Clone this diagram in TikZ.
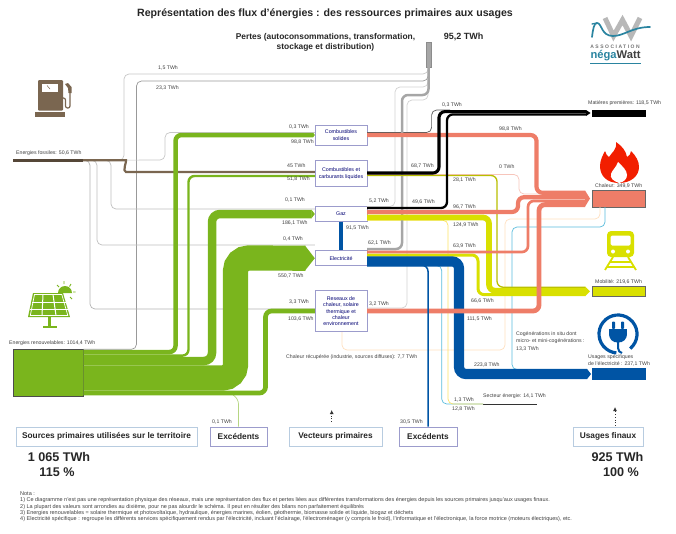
\documentclass[tikz,border=0pt]{standalone}
\usepackage{fontspec}
\setmainfont{Liberation Sans}
\usetikzlibrary{arrows.meta}
\definecolor{vert}{HTML}{7AB51D}
\definecolor{brun}{HTML}{7A6650}
\definecolor{saumon}{HTML}{EE7D68}
\definecolor{jaune}{HTML}{D9E000}
\definecolor{bleu}{HTML}{0054A4}
\definecolor{gris}{HTML}{A6A6A6}
\definecolor{teal}{HTML}{2A84A0}
\definecolor{cadre}{HTML}{9C9CCC}
\definecolor{cadreb}{HTML}{B8CCE0}
\tikzset{
	flux/.style={line width=#1pt,rounded corners=6pt},
	fin/.style={draw=#1,line width=.7pt,rounded corners=5pt},
	pointe/.style={-{Triangle[length=0pt 0.4,width=0pt 1]}},
	lab/.style={font=\fontsize{5.2}{6}\selectfont,text=black!75,inner sep=0pt,anchor=west},
	vecteur/.style={draw=cadre,fill=white,line width=.7pt,text=blue!45!black,align=center,inner sep=0pt,minimum width=51.7pt,font=\fontsize{5.3}{7}\selectfont},
	barre/.style={draw=black!60,line width=.5pt,inner sep=0pt,minimum width=53.7pt},
	titre/.style={font=\fontsize{#1}{#1}\selectfont\bfseries,text=black!85,inner sep=0pt},
	bas/.style={draw=cadreb,line width=.8pt,fill=white,minimum height=19pt,inner sep=0pt,font=\fontsize{8.3}{9}\selectfont\bfseries,text=black!85},
}
\begin{document}
\begin{tikzpicture}[x=1pt,y=-1pt]
	\useasboundingbox (0,0) rectangle (676,533);
	%TITRES
	\node[titre=10.6] (titre) at (325,14) {Représentation des flux d'énergies : des ressources primaires aux usages};
	\node[titre=8.4,align=center] (pertestxt) at (325.5,42) {Pertes (autoconsommations, transformation,\\[1.6pt]stockage et distribution)};
	\node[titre=9] (pertesval) at (463.5,37) {95,2 TWh};
	%NOEUDS
	\node[vecteur,minimum height=20pt] (solides) at (341,135) {Combustibles\\solides};
	\node[vecteur,minimum height=26pt] (liquides) at (341,173.7) {Combustibles et\\carburants liquides};
	\node[vecteur,minimum height=14.5pt] (gaz) at (341,214) {Gaz};
	\node[vecteur,minimum height=15pt] (elec) at (341,258.2) {Electricité};
	\node[vecteur,minimum height=41pt,font=\fontsize{5.3}{6.4}\selectfont] (reseaux) at (341,311.2) {Reseaux de\\chaleur, solaire\\thermique et\\chaleur\\environnement};
	\node[draw=black!45,fill=gris,inner sep=0pt,minimum width=5pt,minimum height=25pt] (pertes) at (428.5,54.5) {};
	\node[draw=black!70,fill=vert,line width=.6pt,inner sep=0pt,minimum width=70pt,minimum height=47pt] (renouv) at (48,372.3) {};
	\node[fill=brun!70!black,inner sep=0pt,minimum width=70pt,minimum height=3pt] (fossiles) at (48,160.3) {};
	\node[barre,fill=black,draw=black,minimum height=5.5pt] (matieres) at (618.8,113) {};
	\node[barre,fill=saumon,minimum height=16.5pt] (chaleur) at (618.8,198.5) {};
	\node[barre,fill=jaune,minimum height=10pt] (mobilite) at (618.8,291.3) {};
	\node[barre,fill=bleu,draw=bleu,minimum height=11pt] (usages) at (618.8,373.8) {};
	\node[fill=black!80,inner sep=0pt,minimum width=53.5pt,minimum height=1pt] (secteur) at (510,404) {};
	\node[bas,minimum width=181pt] (sources) at (106.5,436.5) {Sources primaires utilisées sur le territoire};
	\node[bas,draw=cadre,minimum width=57pt] (excedg) at (238.5,436.5) {Excédents};
	\node[bas,minimum width=93pt] (vecteurs) at (335.5,436.5) {Vecteurs primaires};
	\node[bas,draw=cadre,minimum width=58pt] (excedd) at (428,436.5) {Excédents};
	\node[bas,minimum width=70pt] (finaux) at (608,436.5) {Usages finaux};
	\coordinate (tipmat) at (586,113);
	\coordinate (tipcha) at (585,198.5);
	\coordinate (tipmob) at (585,291.3);
	\coordinate (tipusa) at (591,374);
	%PERTES ET FINES
	\draw[fin=black!22] (fossiles.east) -- (124,160.3) -- (124,74) -- (428,74) -- (pertes.south);
	\draw[fin=black!40] (renouv.east |- 0,349.3) -- (136.5,349.3) -- (136.5,81) -- (428,81) -- (pertes.south);
	\draw[fin=black!22] (fossiles.east) -- (165,160) -- (165,132.5) -- (solides.west |- 0,132.5);
	\draw[fin=black!25] (fossiles.east) -- (111,160.3) -- (111,209) -- (gaz.west |- 0,209);
	\draw[fin=black!25] (fossiles.east) -- (97,160.3) -- (97,245) -- (elec.west |- 0,245);
	\draw[fin=black!30] (fossiles.east) -- (90,160.3) -- (90,309) -- (reseaux.west |- 0,309);
	\draw[fin=black!18] (gaz.east |- 0,206.5) -- (395,206.5) -- (395,87) -- (428,87) -- (pertes.south);
	\draw[fin=black!18] (reseaux.east |- 0,308) -- (407,308) -- (407,100) -- (428,100) -- (pertes.south);
	\draw[fin=black!65] (solides.east |- 0,132.5) -- (431.6,132.5) -- (431.6,110) -- (450,110);
	\draw[fin=saumon!45] (liquides.east |- 0,174.5) -- (519,174.5) -- (519,194) -- (tipcha |- 0,194);
	\draw[fin=orange!25] (342,0 |- reseaux.south) -- (342,350) -- (505,350) -- (505,219) -- (600,219) -- (600,0 |- chaleur.south);
	\draw[fin=bleu!60!cyan!65] (548,369.5) -- (512,369.5) -- (512,227) -- (605,227) -- (605,0 |- chaleur.south);
	\draw[fin=bleu!60!cyan!65] (elec.east |- 0,265.5) -- (441.7,265.5) -- (441.7,404) -- (secteur.west);
	\draw[fin=yellow!70!orange!60] (gaz.east |- 0,220.3) -- (448,220.3) -- (448,404) -- (secteur.west);
	\draw[fin=vert!55] (233,395) -- (238.5,399) -- (excedg.north);
	%VERT
	\draw[flux=2.2,draw=brun] (fossiles.east) -- (120,160.3) .. controls (127,160.3) and (122,172) .. (132,172) -- (solides.west |- 0,172);
	\draw[flux=4.5,draw=vert,pointe] (renouv.east |- 0,352) -- (175.5,352) -- (175.5,135) -- (solides.west |- 0,135);
	\draw[flux=2.4,draw=vert] (renouv.east |- 0,355.6) -- (188.5,355.6) -- (188.5,176) -- (liquides.west |- 0,176);
	\draw[flux=8.5,draw=vert,pointe,rounded corners=8pt] (renouv.east |- 0,361) -- (212,361) -- (212,214) -- (gaz.west);
	\draw[flux=25.2,draw=vert,pointe,rounded corners=13pt] (renouv.east |- 0,378) -- (235.5,378) -- (235.5,258) -- (elec.west);
	\draw[flux=4.7,draw=vert] (renouv.east |- 0,393) -- (265.5,393) -- (265.5,311) -- (reseaux.west |- 0,311);
	%GRIS
	\draw[flux=2.5,draw=gris] (elec.east |- 0,249) -- (402,249) -- (402,95) -- (428.5,95) -- (pertes.south);
	%JAUNE
	\draw[flux=1.3,draw=jaune!85!black] (liquides.east |- 0,175.5) -- (497,175.5) -- (497,287.2) -- (tipmob |- 0,287.2);
	\draw[flux=5.7,draw=jaune] (gaz.east |- 0,217.5) -- (489,217.5) -- (489,290.7) -- (tipmob |- 0,290.7);
	\draw[flux=3,draw=jaune] (elec.east |- 0,255) -- (478,255) -- (478,294.6) -- (tipmob |- 0,294.6);
	\fill[jaune] (tipmob |- 0,286.3) -- ([xshift=5pt]tipmob) -- (tipmob |- 0,296.3) -- cycle;
	%BLEU
	\draw[flux=3.5,draw=bleu] (341,0 |- gaz.south) -- (341,0 |- elec.north);
	\draw[flux=10.2,draw=bleu,pointe,rounded corners=7pt] (elec.east |- 0,261.4) -- (459,261.4) -- (459,374) -- (tipusa);
	%SAUMON
	\draw[flux=4.2,draw=saumon] (solides.east |- 0,135) -- (536.5,135) -- (536.5,192.8) -- (tipcha |- 0,192.8);
	\draw[flux=4.2,draw=saumon] (gaz.east |- 0,212) -- (518,212) -- (518,197.2) -- (tipcha |- 0,197.2);
	\draw[flux=2.7,draw=saumon] (elec.east |- 0,252) -- (528,252) -- (528,200.9) -- (tipcha |- 0,200.9);
	\draw[flux=4.8,draw=saumon] (reseaux.east |- 0,311) -- (539,311) -- (539,204.6) -- (tipcha |- 0,204.6);
	\fill[saumon] (tipcha |- 0,190.5) -- ([xshift=5pt]tipcha) -- (tipcha |- 0,206.7) -- cycle;
	%NOIR
	\draw[flux=3.1,draw=black] (liquides.east |- 0,173) -- (439,173) -- (439,111.6) -- (tipmat |- 0,111.6);
	\draw[flux=2.3,draw=black] (gaz.east |- 0,208) -- (447,208) -- (447,114.4) -- (tipmat |- 0,114.4);
	\fill (tipmat |- 0,110) -- ([xshift=4.5pt]tipmat) -- (tipmat |- 0,116) -- cycle;
	\draw[flux=1.5,draw=bleu] (elec.east |- 0,265.3) -| (excedd.north);
	%ETIQUETTES
	\foreach \px/\py/\txt [count=\n] in {158/68/{1,5 TWh},156/88/{23,3 TWh},16/153/{Energies fossiles: 50,6 TWh},9/343/{Energies renouvelables: 1014,4 TWh},
		289/127/{0,3 TWh},291/142/{98,8 TWh},287/166/{45 TWh},287/178.5/{51,8 TWh},285/200/{0,1 TWh},282/223/{186,1 TWh},283/239/{0,4 TWh},278/276/{550,7 TWh},289/302/{3,3 TWh},288/319/{103,6 TWh},
		369/201/{5,2 TWh},412/202/{49,6 TWh},411/166/{68,7 TWh},346/228/{91,5 TWh},368/243/{62,1 TWh},369/304/{3,2 TWh},442/105/{0,3 TWh},
		453/179.5/{28,1 TWh},499/167/{0 TWh},499/129/{98,8 TWh},453/206.5/{96,7 TWh},453/225/{124,9 TWh},453/246/{63,9 TWh},471/301/{66,6 TWh},467/318.7/{111,5 TWh},474/365/{223,8 TWh},
		454/400/{1,3 TWh},452/409/{12,8 TWh},400/422/{30,5 TWh},212/422/{0,1 TWh},483/396/{Secteur énergie: 14,1 TWh},286/357/{Chaleur récupérée (industrie, sources diffuses): 7,7 TWh},
		588/103/{Matières premières: 118,5 TWh},595/186/{Chaleur: 349,9 TWh},595/282/{Mobilité: 219,6 TWh},588/357/{Usages spécifiques},588/364/{de l'électricité : 237,1 TWh},
		516/334.5/{Cogénérations in situ dont},516/341/{micro- et mini-cogénérations :},516/349/{13,3 TWh}}
		\node[lab] (lab\n) at (\px,\py) {\txt};
	%TOTAUX
	\node[titre=12.6] (totalg) at (59,457) {1 065 TWh};
	\node[titre=12.6] (pctg) at (57,472) {115 \%};
	\node[titre=12.6] (totald) at (617.5,457) {925 TWh};
	\node[titre=12.6] (pctd) at (621,472) {100 \%};
	\coordinate (fa) at (331.7,422);
	\coordinate (fb) at (331.7,410);
	\coordinate (fc) at (615,426);
	\coordinate (fd) at (615,407);
	\draw[dotted,line width=.8pt,black!80,-{Latex[length=4pt,width=4pt]}] (fa) -- (fb);
	\draw[dotted,line width=.8pt,black!80,-{Latex[length=4pt,width=4pt]}] (fc) -- (fd);
	%NOTES
	\node[inner sep=0pt,anchor=north west,align=left,text=black!75,font=\fontsize{5.5}{6.3}\selectfont] (nota) at (20,491.5) {Nota :\\
		1) Ce diagramme n'est pas une représentation physique des réseaux, mais une représentation des flux et pertes liées aux différentes transformations des énergies depuis les sources primaires jusqu'aux usages finaux.\\
		2) La plupart des valeurs sont arrondies au dixième, pour ne pas alourdir le schéma. Il peut en résulter des bilans non parfaitement équilibrés\\
		3) Energies renouvelables = solaire thermique et photovoltaïque, hydraulique, énergies marines, éolien, géothermie, biomasse solide et liquide, biogaz et déchets\\
		4) Electricité spécifique : regroupe les différents services spécifiquement rendus par l'électricité, incluant l'éclairage, l'électroménager (y compris le froid), l'informatique et l'électronique, la force motrice (moteurs électriques), etc.};
	%POMPE
	\fill[brun,rounded corners=1pt] (38,80) rectangle (63,110.5);
	\fill[white] (42,84) rectangle (58,92);
	\draw[brun,line width=.5pt] (47,85.5) -- (50,89);
	\fill[brun] (35,111.7) rectangle (64.5,116.5);
	\draw[brun,line width=1.2pt,rounded corners=2pt] (63,98) -- (65.5,98) -- (65.5,108) -- (70,108) -- (70,90);
	\fill[brun] (65,84) -- (68,83) -- (71.5,87) -- (71.5,93) -- (68.5,93) -- (68,88) -- cycle;
	%PANNEAU
	\fill[vert] (58,293) arc (180:360:7);
	\fill[vert] (33,293) -- (63,293) -- (70,317) -- (28,317) -- cycle;
	\draw[white,line width=.7pt] (34.5,294.5) -- (61.8,294.5) -- (67.8,315.5) -- (30.3,315.5) -- cycle;
	\foreach \dx in {-1,1} \draw[white,line width=1pt] (48+\dx*5,294.5) -- (49+\dx*7,315.5);
	\foreach \hy/\hl/\hr in {302/32/66,309/30/68} \draw[white,line width=1pt] (\hl,\hy) -- (\hr,\hy);
	\fill[vert] (47.5,317) rectangle (50.5,326);
	\fill[vert] (43,326) rectangle (57,328);
	\draw[vert,line width=.9pt] (57,285) -- (59,287) (64,281) -- (64,284) (71,284) -- (69.5,286.5) (73,292) -- (75.5,292) (70,297) -- (72,299);
	%FLAMME
	\fill[red!75!orange!95!black] (619,183) .. controls (607,183) and (600,176) .. (600,166) .. controls (600,160) and (603,155) .. (605,151) .. controls (606,154) and (607,156) .. (609,157) .. controls (612,152) and (617,150) .. (616,142) .. controls (622,146) and (626,151) .. (627,157) .. controls (629,156) and (631,154) .. (631,151) .. controls (636,156) and (639,161) .. (639,167) .. controls (639,176) and (631,183) .. (619,183) -- cycle;
	\fill[white] (619,183) .. controls (613,181) and (610,178) .. (611,174) .. controls (612,170) and (616,168) .. (618,162) .. controls (622,166) and (627,170) .. (627,175) .. controls (627,179) and (624,182) .. (619,183) -- cycle;
	%TRAIN
	\fill[jaune,rounded corners=4pt] (607,231) rectangle (634,257);
	\fill[white,rounded corners=1.5pt] (610.5,235.5) rectangle (630.5,245.5);
	\fill[white] (613,251.5) circle (2);
	\fill[white] (628,251.5) circle (2);
	\draw[jaune,line width=1.8pt] (613,257) -- (605,270) (628,257) -- (636,270) (610,262) -- (631,262) (607.5,267) -- (633.5,267);
	%PRISE
	\draw[bleu,line width=3.2pt] (618,334)++(50:19) arc (50:-265:19);
	\fill[bleu] (609,328.5) rectangle (627,333);
	\fill[bleu] (609,333) -- (627,333) .. controls (627,340) and (623,342.5) .. (618,342.5) .. controls (613,342.5) and (609,340) .. (609,333) -- cycle;
	\fill[bleu,rounded corners=.8pt] (612,321.5) rectangle (615,329);
	\fill[bleu,rounded corners=.8pt] (621,321.5) rectangle (624,329);
	\draw[bleu,line width=2pt] (618,342) -- (618,348) .. controls (618,351) and (620,352.5) .. (622,353);
	%LOGO
	\draw[black!28,line width=5pt,line join=miter] (605,18) -- (613.5,36) -- (622.5,20) -- (631,36) -- (640,18);
	\draw[teal,line width=1.7pt,line cap=round] (592,37) .. controls (593,29) and (594,23) .. (597,23) .. controls (602,23) and (601,36) .. (613,36) .. controls (624,36) and (632,27) .. (650,27);
	\draw[teal,line width=1.3pt,line cap=round] (592,24) -- (597,23);
	\node[inner sep=0pt,text=black!55,font=\fontsize{5}{5}\selectfont\bfseries\addfontfeature{LetterSpace=30}] (logoa) at (615,47) {ASSOCIATION};
	\node[inner sep=0pt,font=\fontsize{11.2}{11}\selectfont\bfseries] (logob) at (615.5,55.5) {\textcolor{teal}{néga}\textcolor{black!75}{Watt}};
	\draw[teal,line width=.7pt] (590,63) -- (641,63);
\end{tikzpicture}
\end{document}
